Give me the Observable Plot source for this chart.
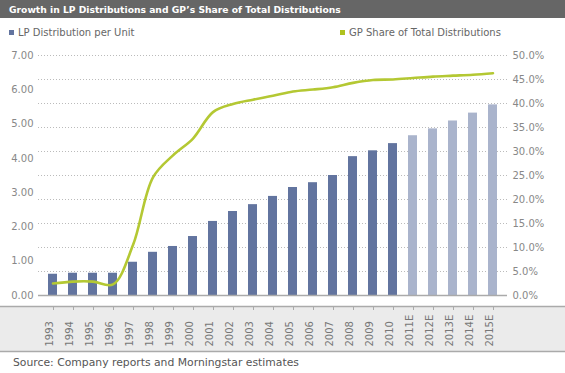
<!DOCTYPE html>
<html>
<head>
<meta charset="utf-8">
<script src="https://cdn.jsdelivr.net/npm/d3@7"></script>
<script src="https://cdn.jsdelivr.net/npm/@observablehq/plot@0.6"></script>
<style>
  html, body { margin: 0; padding: 0; background: #fff; }
  body { width: 565px; font-family: "DejaVu Sans", Verdana, sans-serif; }
  .title { height: 18px; line-height: 19px; background: #666; color: #fff; font-weight: bold; font-size: 9.2px; padding-left: 9px; white-space: nowrap; }
  .legend { position: relative; height: 28px; font-size: 10px; color: #666; }
  .legend .item { position: absolute; top: 9px; display: flex; align-items: center; white-space: nowrap; }
  .legend .sw { width: 5px; height: 5px; margin-right: 4px; }
  .caption { font-size: 10.8px; color: #555; padding-left: 13px; margin-top: 2px; white-space: nowrap; }
  #chart svg { display: block; }
</style>
</head>
<body>
<div class="title">Growth in LP Distributions and GP’s Share of Total Distributions</div>
<div class="legend">
  <div class="item" style="left:9px"><div class="sw" style="background:#62749f"></div>LP Distribution per Unit</div>
  <div class="item" style="left:340px"><div class="sw" style="background:#afc21e"></div>GP Share of Total Distributions</div>
</div>
<div id="chart"></div>
<div class="caption">Source: Company reports and Morningstar estimates</div>
<script>
const years = ["1993","1994","1995","1996","1997","1998","1999","2000","2001","2002","2003","2004","2005","2006","2007","2008","2009","2010","2011E","2012E","2013E","2014E","2015E"];
const lpDistribution = [0.62,0.65,0.65,0.65,0.97,1.26,1.43,1.72,2.16,2.45,2.65,2.89,3.15,3.29,3.50,4.05,4.22,4.43,4.66,4.86,5.09,5.32,5.56];
const gpSharePct = [2.5,2.9,2.9,2.3,10.5,24.6,29.2,32.7,38.2,39.9,40.8,41.6,42.5,42.9,43.4,44.3,44.9,45.0,45.3,45.6,45.8,46.0,46.3];
const leftTicks = [0,1,2,3,4,5,6,7];
const rightTicksPct = [0,5,10,15,20,25,30,35,40,45,50];

const LEFT_MAX = 7, RIGHT_MAX = 50;
const toLeft = p => p * LEFT_MAX / RIGHT_MAX;

const data = years.map((y, i) => ({
  year: y,
  lp: lpDistribution[i],
  gp: toLeft(gpSharePct[i]),
  estimate: y.endsWith("E")
}));

const W = 565, H = 308;
const chart = Plot.plot({
  width: W,
  height: H,
  marginLeft: 35,
  marginRight: 55,
  marginTop: 9,
  marginBottom: 59,
  style: { fontFamily: "DejaVu Sans, Verdana, sans-serif", fontSize: "10px", background: "transparent", overflow: "visible" },
  x: { type: "band", domain: years, paddingInner: 0.56, paddingOuter: 0.28, axis: null },
  y: { domain: [0, LEFT_MAX], axis: null },
  marks: [
    Plot.ruleY(rightTicksPct.filter(d => d > 0).map(toLeft), { stroke: "#bbb", strokeDasharray: "1,2", strokeWidth: 1, insetLeft: 3, insetRight: 3 }),
    Plot.barY(data, { x: "year", y: "lp", fill: d => d.estimate ? "#aab4cc" : "#62749f" }),
    Plot.ruleY([0], { stroke: "#aaa", strokeWidth: 1.5, insetLeft: 3, insetRight: 3 }),
    Plot.line(data, { x: "year", y: "gp", stroke: "#b4c833", strokeWidth: 2.6, curve: "catmull-rom" }),
    Plot.axisY(leftTicks, { anchor: "left", tickSize: 0, tickPadding: 2, tickFormat: d => d.toFixed(2), fill: "#888", label: null }),
    Plot.axisY(rightTicksPct.map(toLeft), { anchor: "right", tickSize: 0, tickPadding: 2, tickFormat: d => (d * RIGHT_MAX / LEFT_MAX).toFixed(1) + "%", fill: "#888", label: null }),
    Plot.text(years, { x: d => d, frameAnchor: "bottom", rotate: -90, textAnchor: "start", dy: 51, fill: "#777", fontSize: 10 })
  ]
});

// x-axis band background and ticks
const svg = d3.select(chart);
const xs = chart.scale("x");
const bandTop = 260, bandBottom = 306;
const g = svg.insert("g", ":first-child");
g.append("rect").attr("x", 0).attr("y", bandTop).attr("width", W).attr("height", bandBottom - bandTop).attr("fill", "#ebebeb");
g.append("line").attr("x1", 0).attr("x2", W).attr("y1", bandTop + 0.5).attr("y2", bandTop + 0.5).attr("stroke", "#aaa").attr("stroke-width", 1.5);
g.append("line").attr("x1", 0).attr("x2", W).attr("y1", bandBottom - 0.5).attr("y2", bandBottom - 0.5).attr("stroke", "#aaa").attr("stroke-width", 1.5);
years.forEach(y => {
  const cx = Math.round(xs.apply(y) + xs.bandwidth / 2) + 0.5;
  g.append("line").attr("x1", cx).attr("x2", cx).attr("y1", bandTop).attr("y2", bandTop + 4).attr("stroke", "#aaa");
});

document.getElementById("chart").appendChild(chart);
</script>
</body>
</html>
